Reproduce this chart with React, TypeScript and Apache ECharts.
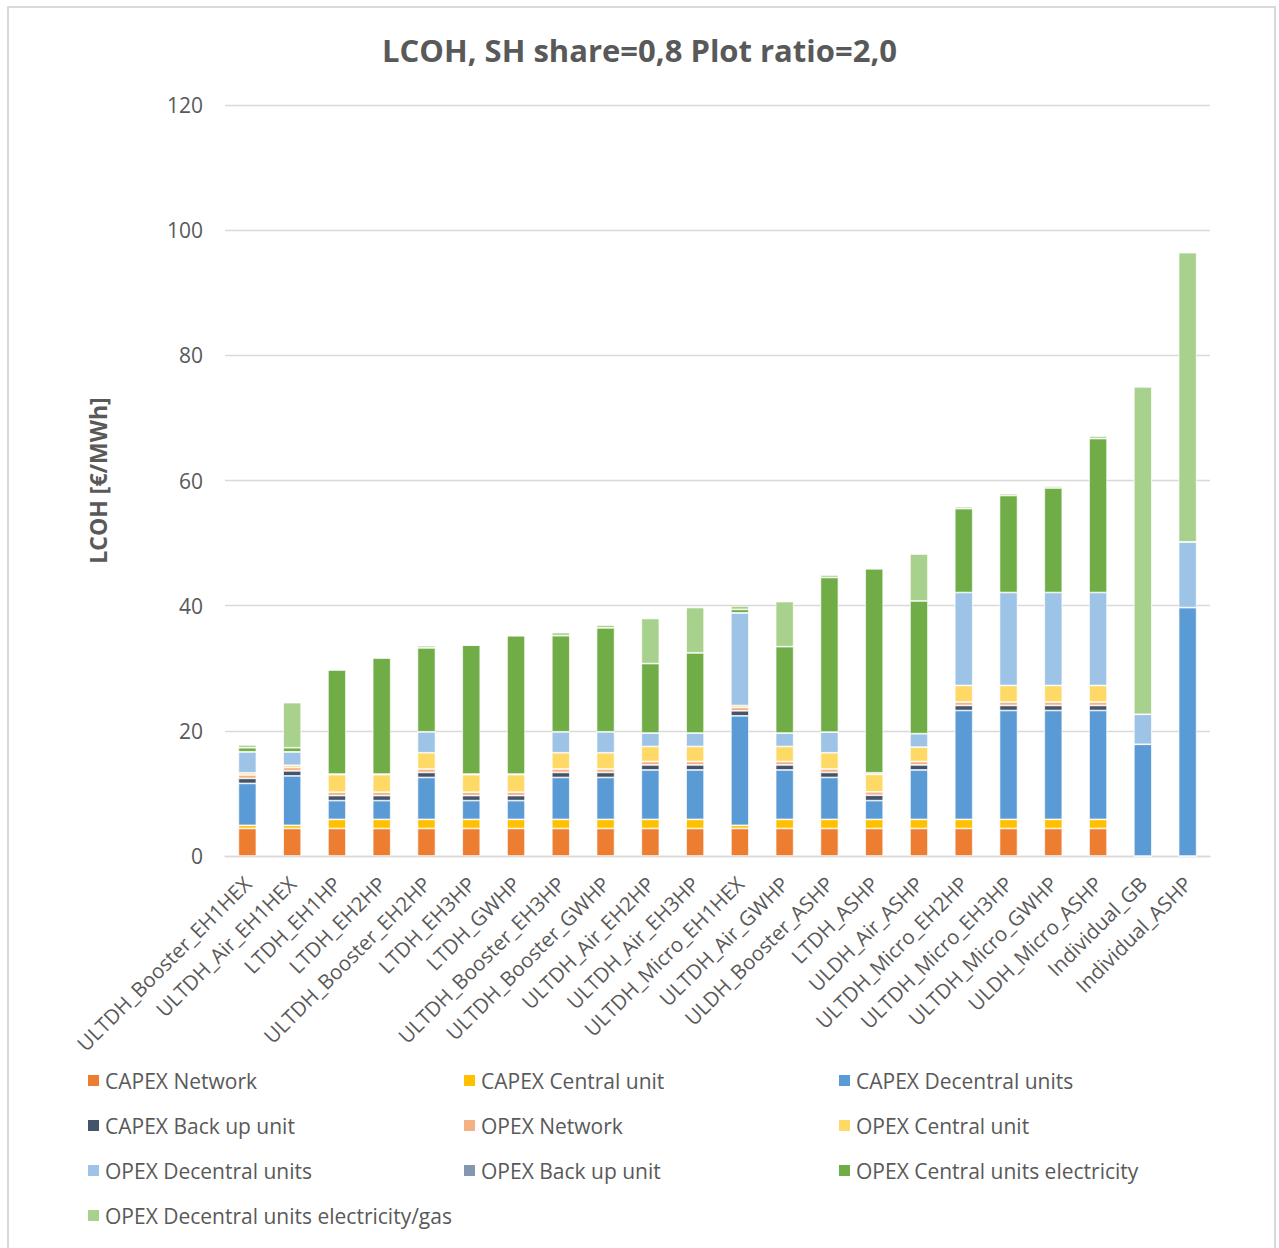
import React, { useEffect, useRef } from "react";
import * as echarts from "echarts";

const categories = [
  "ULTDH_Booster_EH1HEX", "ULTDH_Air_EH1HEX", "LTDH_EH1HP", "LTDH_EH2HP",
  "ULTDH_Booster_EH2HP", "LTDH_EH3HP", "LTDH_GWHP", "ULTDH_Booster_EH3HP",
  "ULTDH_Booster_GWHP", "ULTDH_Air_EH2HP", "ULTDH_Air_EH3HP", "ULTDH_Micro_EH1HEX",
  "ULTDH_Air_GWHP", "ULDH_Booster_ASHP", "LTDH_ASHP", "ULDH_Air_ASHP",
  "ULTDH_Micro_EH2HP", "ULTDH_Micro_EH3HP", "ULTDH_Micro_GWHP", "ULDH_Micro_ASHP",
  "Individual_GB", "Individual_ASHP",
];

const capexNetwork = [4.4, 4.4, 4.4, 4.4, 4.4, 4.4, 4.4, 4.4, 4.4, 4.4, 4.4, 4.4, 4.4, 4.4, 4.4, 4.4, 4.4, 4.4, 4.4, 4.4, 0, 0];
const capexCentral = [0.5, 0.5, 1.45, 1.45, 1.45, 1.45, 1.45, 1.45, 1.45, 1.45, 1.45, 0.5, 1.45, 1.45, 1.45, 1.45, 1.45, 1.45, 1.45, 1.45, 0, 0];
const capexDecentral = [6.7, 7.9, 3.0, 3.0, 6.7, 3.0, 3.0, 6.7, 6.7, 7.9, 7.9, 17.5, 7.9, 6.7, 3.0, 7.9, 17.4, 17.4, 17.4, 17.4, 17.85, 39.7];
const capexBackup = [0.8, 0.8, 0.8, 0.8, 0.8, 0.8, 0.8, 0.8, 0.8, 0.8, 0.8, 0.8, 0.8, 0.8, 0.85, 0.8, 0.8, 0.8, 0.8, 0.8, 0, 0];
const opexNetwork = [0.55, 0.55, 0.55, 0.55, 0.55, 0.55, 0.55, 0.55, 0.55, 0.55, 0.55, 0.55, 0.55, 0.55, 0.55, 0.55, 0.55, 0.55, 0.55, 0.55, 0, 0];
const opexCentral = [0.35, 0.35, 2.8, 2.8, 2.6, 2.8, 2.8, 2.6, 2.6, 2.4, 2.4, 0.3, 2.4, 2.6, 2.8, 2.3, 2.65, 2.65, 2.65, 2.65, 0, 0];
const opexDecentral = [3.35, 2.15, 0.1, 0.1, 3.35, 0.1, 0.1, 3.35, 3.35, 2.15, 2.15, 14.8, 2.15, 3.3, 0.25, 2.15, 14.85, 14.85, 14.85, 14.85, 4.8, 10.5];
const opexBackup = [0, 0, 0, 0, 0, 0, 0, 0, 0, 0, 0, 0, 0, 0, 0, 0, 0, 0, 0, 0, 0, 0];
const opexCentralElec = [0.65, 0.65, 16.65, 18.55, 13.4, 20.6, 22.1, 15.35, 16.6, 11.1, 12.8, 0.55, 13.8, 24.7, 32.6, 21.2, 13.4, 15.5, 16.7, 24.6, 0, 0];
const opexDecentralElecGas = [0.45, 7.2, 0, 0, 0.35, 0, 0, 0.5, 0.45, 7.2, 7.25, 0.55, 7.2, 0.4, 0, 7.5, 0.3, 0.3, 0.3, 0.4, 52.3, 46.2];

const seriesNames = [
  "CAPEX Network", "CAPEX Central unit", "CAPEX Decentral units",
  "CAPEX Back up unit", "OPEX Network", "OPEX Central unit",
  "OPEX Decentral units", "OPEX Back up unit", "OPEX Central units electricity",
  "OPEX Decentral units electricity/gas",
];
const seriesData = [
  capexNetwork, capexCentral, capexDecentral, capexBackup, opexNetwork,
  opexCentral, opexDecentral, opexBackup, opexCentralElec, opexDecentralElecGas,
];
const seriesColors = [
  "#ED7D31", "#FFC000", "#5B9BD5", "#44546A", "#F4B183",
  "#FFD966", "#9DC3E6", "#8497B0", "#70AD47", "#A9D18E",
];

const yTicks = [0, 20, 40, 60, 80, 100, 120];

const FONT = "'Open Sans', sans-serif";
const TEXT = "#595959";

export default function App() {
  const ref = useRef<HTMLDivElement>(null);
  useEffect(() => {
    if (!ref.current) return;
    const chart = echarts.init(ref.current, undefined, { renderer: "svg" });
    const legendCols = [86, 462, 837];
    const legendRows = [1070, 1115, 1160, 1205];
    const legends = seriesNames.map((name, i) => ({
      data: [name],
      left: legendCols[i % 3],
      top: legendRows[Math.floor(i / 3)],
      padding: 0,
      itemWidth: 13,
      itemHeight: 13,
      itemGap: 0,
      icon: "rect",
      selectedMode: false,
      textStyle: { fontFamily: FONT, fontSize: 21, color: TEXT, padding: [0, 0, 0, 0] },
    }));
    chart.setOption({
      animation: false,
      textStyle: { fontFamily: FONT },
      title: {
        text: "LCOH, SH share=0,8 Plot ratio=2,0",
        left: "center",
        top: 29,
        textStyle: { fontFamily: FONT, fontSize: 31, fontWeight: "bold", color: TEXT },
      },
      legend: legends,
      grid: { left: 225, right: 69, top: 105, bottom: 392, containLabel: false },
      xAxis: {
        type: "category",
        data: categories,
        axisLine: { lineStyle: { color: "#D9D9D9", width: 1.3 } },
        axisTick: { show: false },
        axisLabel: {
          interval: 0,
          rotate: 45,
          fontFamily: FONT,
          fontSize: 20.5,
          color: TEXT,
          margin: 24,
        },
      },
      yAxis: {
        type: "value",
        min: 0,
        max: 120,
        interval: 20,
        name: "LCOH [€/MWh]",
        nameLocation: "middle",
        nameGap: 116,
        nameTextStyle: { fontFamily: FONT, fontSize: 23, fontWeight: "bold", color: TEXT },
        axisLine: { show: false },
        axisTick: { show: false },
        splitLine: { lineStyle: { color: "#D9D9D9", width: 1.3 } },
        axisLabel: {
          fontFamily: FONT,
          fontSize: 21,
          color: TEXT,
          margin: 22,
          formatter: (v: number) => (yTicks.includes(v) ? String(v) : ""),
        },
      },
      series: seriesNames.map((name, i) => ({
        name,
        type: "bar",
        stack: "total",
        barWidth: 18,
        data: seriesData[i],
        itemStyle: { color: seriesColors[i], borderColor: "#fff", borderWidth: 0.7 },
        emphasis: { disabled: true },
      })),
    });
    return () => chart.dispose();
  }, []);
  return (
    <div
      style={{
        position: "absolute",
        left: 0,
        top: 0,
        width: 1279,
        height: 1248,
        background: "#fff",
        overflow: "hidden",
      }}
    >
      <div ref={ref} style={{ position: "absolute", left: 0, top: 0, width: 1279, height: 1248 }} />
      <div
        style={{
          position: "absolute",
          left: 7,
          top: 6,
          width: 1269,
          height: 1260,
          border: "2px solid #D9D9D9",
          boxSizing: "border-box",
          pointerEvents: "none",
        }}
      />
    </div>
  );
}
